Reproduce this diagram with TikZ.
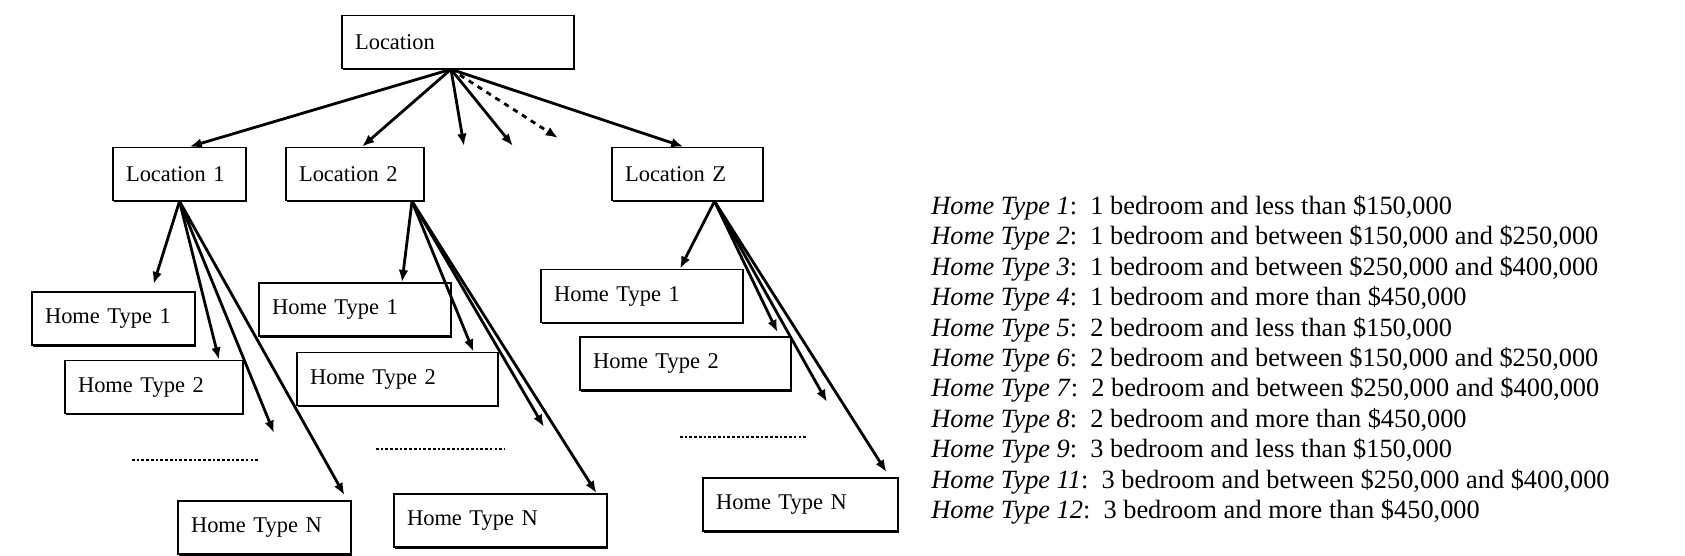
\documentclass[tikz,border=0pt]{standalone}
\usepackage{fontspec}
\setmainfont{Liberation Serif}
\usetikzlibrary{arrows.meta, calc, shadows}

\begin{document}
\begin{tikzpicture}[
      x=0.02cm, y=-0.02cm,
      every node/.style={font=\fontsize{12.8}{14}\selectfont},
      box/.style={draw, line width=0.9pt, rectangle, minimum height=1.06cm,
        inner xsep=0.26cm, text width=#1, align=left, fill=white,
        drop shadow={shadow xshift=0.4pt, shadow yshift=-1pt, opacity=1, fill=black}},
      link/.style={-{Latex[length=7pt, width=5.5pt]}, line width=1.6pt},
      dots/.style={line width=1.6pt, dash pattern=on 1.5pt off 1.2pt}
    ]
      \useasboundingbox (0,0) rectangle (1685,555);

      % top level and locations
      \node[box=4.12cm] (loc) at (458,42) {Location};
      \node[box=2.14cm] (loc1) at (179.5,174) {Location 1};
      \node[box=2.24cm] (loc2) at (355,174) {Location 2};
      \node[box=2.50cm] (locz) at (687.5,174) {Location Z};

      % home types
      \node[box=2.74cm] (l1t1) at (113.5,318.5) {Home Type 1};
      \node[box=3.04cm] (l1t2) at (154,387) {Home Type 2};
      \node[box=2.94cm] (l1tn) at (264.5,527.5) {Home Type N};
      \node[box=3.32cm] (l2t1) at (355,309.5) {Home Type 1};
      \node[box=3.50cm] (l2t2) at (397.5,379) {Home Type 2};
      \node[box=3.74cm] (l2tn) at (500.5,520.5) {Home Type N};
      \node[box=3.52cm] (lzt1) at (642,296) {Home Type 1};
      \node[box=3.70cm] (lzt2) at (685.5,363.5) {Home Type 2};
      \node[box=3.38cm] (lztn) at (800.5,504.5) {Home Type N};

      \coordinate (o) at ($(loc.south)+(-7,0)$);
      \coordinate (o1) at (loc1.south);
      \coordinate (o2) at ($(loc2.south)+(57,0)$);
      \coordinate (oz) at ($(locz.south)+(27,0)$);
      \coordinate (f1) at (464,146);
      \coordinate (f2) at (513,146);
      \coordinate (f3) at (558,138);
      \coordinate (l1f) at (274,433);
      \coordinate (l2f) at (544,427);
      \coordinate (lzf) at (827,402);

      \draw[link] (o) -- ($(loc1.north)+(10,0)$);
      \draw[link] (o) -- ($(loc2.north)+(7,0)$);
      \draw[link] (o) -- (f1);
      \draw[link] (o) -- (f2);
      \draw[link, dashed] (o) -- (f3);
      \draw[link] (o) -- ($(locz.north)+(-4,0)$);

      \draw[link] (o1) -- ($(l1t1.north)+(40,-7)$);
      \draw[link] (o1) -- ($(l1t2.north)+(65,0)$);
      \draw[link] (o1) -- (l1f);
      \draw[link] (o1) -- ($(l1tn.north)+(80,-5)$);

      \draw[link] (o2) -- ($(l2t1.north)+(47,0)$);
      \draw[link] (o2) -- ($(l2t2.north)+(76,0)$);
      \draw[link] (o2) -- (l2f);
      \draw[link] (o2) -- ($(l2tn.north)+(96,0)$);

      \draw[link] (oz) -- ($(lzt1.north)+(38,0)$);
      \draw[link] (oz) -- ($(lzt2.north)+(92,-4)$);
      \draw[link] (oz) -- (lzf);
      \draw[link] (oz) -- ($(lztn.north)+(86,-5)$);

      \draw[dots] (132,460) -- (259,460);
      \draw[dots] (376,449) -- (505,449);
      \draw[dots] (680,437) -- (808,437);

      % legend
      \node[anchor=north west, inner sep=0pt, align=left,
        font=\fontsize{15}{17.3}\selectfont] (legend) at (931,195) {%
        \textit{Home Type 1}:\ \ 1 bedroom and less than \$150,000\\
        \textit{Home Type 2}:\ \ 1 bedroom and between \$150,000 and \$250,000\\
        \textit{Home Type 3}:\ \ 1 bedroom and between \$250,000 and \$400,000\\
        \textit{Home Type 4}:\ \ 1 bedroom and more than \$450,000\\
        \textit{Home Type 5}:\ \ 2 bedroom and less than \$150,000\\
        \textit{Home Type 6}:\ \ 2 bedroom and between \$150,000 and \$250,000\\
        \textit{Home Type 7}:\ \ 2 bedroom and between \$250,000 and \$400,000\\
        \textit{Home Type 8}:\ \ 2 bedroom and more than \$450,000\\
        \textit{Home Type 9}:\ \ 3 bedroom and less than \$150,000\\
        \textit{Home Type 11}:\ \ 3 bedroom and between \$250,000 and \$400,000\\
        \textit{Home Type 12}:\ \ 3 bedroom and more than \$450,000};
    \end{tikzpicture}
\end{document}
